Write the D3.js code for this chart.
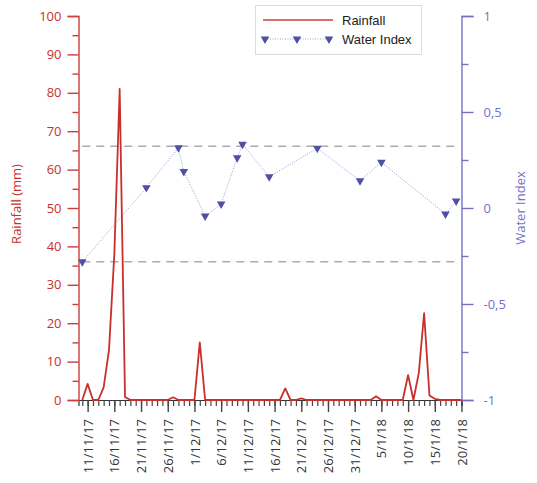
<!DOCTYPE html>
<html>
<head>
<meta charset="utf-8">
<script src="https://cdn.jsdelivr.net/npm/d3@7"></script>
<style>
  body { margin: 0; background: #fff; }
  svg { display: block; }
</style>
</head>
<body>
<svg id="chart" width="537" height="483"></svg>
<script>
// Daily rainfall (mm), one value per day starting at rainStart
const rainStart = "2017-11-10";
const rainfall = [
  0, 4.2, 0, 0, 3.3, 13, 38, 81, 0.8, 0,    // 10/11 – 19/11
  0, 0, 0, 0, 0, 0, 0, 0.7, 0, 0,           // 20/11 – 29/11
  0, 0, 15, 0, 0, 0, 0, 0, 0, 0,            // 30/11 – 9/12
  0, 0, 0, 0, 0, 0, 0, 0, 3.0, 0,           // 10/12 – 19/12
  0, 0.4, 0, 0, 0, 0, 0, 0, 0, 0,           // 20/12 – 29/12
  0, 0, 0, 0, 0, 1.0, 0, 0, 0, 0,           // 30/12 – 8/1
  0, 6.5, 0, 7, 22.6, 1.2, 0.3, 0, 0, 0,    // 9/1 – 18/1
  0, 0                                       // 19/1 – 20/1
];

// Water index samples
const wiDates = ["2017-11-10", "2017-11-22", "2017-11-28", "2017-11-29", "2017-12-03",
                 "2017-12-06", "2017-12-09", "2017-12-10", "2017-12-15", "2017-12-24",
                 "2018-01-01", "2018-01-05", "2018-01-17", "2018-01-19"];
const wiValues = [-0.28, 0.106, 0.314, 0.19, -0.042, 0.021, 0.262, 0.332,
                  0.163, 0.311, 0.142, 0.238, -0.031, 0.036];

// Reference levels of the water index (dashed lines)
const refLevels = [0.322, -0.28];

// Axis ticks
const dateTicks = ["2017-11-11", "2017-11-16", "2017-11-21", "2017-11-26", "2017-12-01",
                   "2017-12-06", "2017-12-11", "2017-12-16", "2017-12-21", "2017-12-26",
                   "2017-12-31", "2018-01-05", "2018-01-10", "2018-01-15", "2018-01-20"];
const rainTicks = [0, 10, 20, 30, 40, 50, 60, 70, 80, 90, 100];
const rainMinorTicks = [5, 15, 25, 35, 45, 55, 65, 75, 85, 95];
const wiTicks = [-1, -0.5, 0, 0.5, 1];
const wiMinorTicks = [-0.75, -0.25, 0.25, 0.75];

const RED = "#c8302e";
const AXIS_RED = "#cc3d3d";
const BLUE = "#7373c6";
const MARK = "#4f4fa3";
const FONT = "'Open Sans', 'DejaVu Sans', sans-serif";

const svg = d3.select("#chart");
const parse = d3.utcParse("%Y-%m-%d");

const plotLeft = 78.5, plotRight = 461.5, plotTop = 16, plotBottom = 400;

const x = d3.scaleUtc()
  .domain([new Date(Date.UTC(2017, 10, 9, 7)), parse("2018-01-20")])
  .range([plotLeft, plotRight]);
const yRain = d3.scaleLinear().domain([0, 100]).range([plotBottom, plotTop]);
const yWi = d3.scaleLinear().domain([-1, 1]).range([plotBottom, plotTop]);

const start = parse(rainStart);
const rainData = rainfall.map((v, i) => ({ date: d3.utcDay.offset(start, i), value: v }));
const wiData = wiDates.map((d, i) => ({ date: parse(d), value: wiValues[i] }));

const commaFmt = d3.formatLocale({ decimal: ",", thousands: ".", grouping: [3], currency: ["", ""], minus: "-" }).format("");

// ---- X axis (minor ticks each day, major ticks every 5 days)
const minorDays = d3.utcDay.range(parse("2017-11-10"), parse("2018-01-21"));
svg.append("g")
  .attr("transform", `translate(0,${plotBottom})`)
  .call(d3.axisBottom(x).tickValues(minorDays).tickSize(6).tickFormat(""))
  .call(g => g.select(".domain").attr("stroke", "#333").attr("stroke-width", 1.2))
  .call(g => g.selectAll(".tick line").attr("stroke", "#444").attr("stroke-width", 1.2));

const xMajor = svg.append("g")
  .attr("transform", `translate(0,${plotBottom})`)
  .call(d3.axisBottom(x).tickValues(dateTicks.map(parse)).tickSize(12)
    .tickFormat(d3.utcFormat("%-d/%-m/%y")));
xMajor.select(".domain").remove();
xMajor.selectAll(".tick line").attr("stroke", "#444").attr("stroke-width", 1.4);
xMajor.selectAll(".tick text")
  .attr("transform", "rotate(-90)")
  .attr("text-anchor", "end")
  .attr("x", -19)
  .attr("y", 0)
  .attr("dy", "0.35em")
  .attr("fill", "#333")
  .style("font", `13px ${FONT}`);

// ---- Left axis (rainfall)
const yl = svg.append("g")
  .attr("transform", `translate(${plotLeft},0)`)
  .call(d3.axisLeft(yRain).tickValues(rainTicks).tickSize(11).tickPadding(6));
yl.select(".domain").attr("stroke", AXIS_RED).attr("stroke-width", 1.4);
yl.selectAll(".tick line").attr("stroke", AXIS_RED).attr("stroke-width", 1.4);
yl.selectAll(".tick text").attr("fill", RED).style("font", `13px ${FONT}`);
svg.append("g")
  .attr("transform", `translate(${plotLeft},0)`)
  .call(d3.axisLeft(yRain).tickValues(rainMinorTicks).tickSize(6).tickFormat(""))
  .call(g => g.select(".domain").remove())
  .call(g => g.selectAll(".tick line").attr("stroke", AXIS_RED).attr("stroke-width", 1.4));

// ---- Right axis (water index)
const yr = svg.append("g")
  .attr("transform", `translate(${plotRight},0)`)
  .call(d3.axisRight(yWi).tickValues(wiTicks).tickSize(12).tickPadding(10).tickFormat(commaFmt));
yr.select(".domain").attr("stroke", BLUE).attr("stroke-width", 1.4);
yr.selectAll(".tick line").attr("stroke", BLUE).attr("stroke-width", 1.4);
yr.selectAll(".tick text").attr("fill", BLUE).style("font", `13px ${FONT}`);
svg.append("g")
  .attr("transform", `translate(${plotRight},0)`)
  .call(d3.axisRight(yWi).tickValues(wiMinorTicks).tickSize(7).tickFormat(""))
  .call(g => g.select(".domain").remove())
  .call(g => g.selectAll(".tick line").attr("stroke", BLUE).attr("stroke-width", 1.4));

// ---- Axis titles
svg.append("text")
  .attr("transform", `translate(21,${(plotTop + plotBottom) / 2 - 4}) rotate(-90)`)
  .attr("text-anchor", "middle")
  .attr("fill", RED)
  .style("font", `13px ${FONT}`)
  .text("Rainfall (mm)");
svg.append("text")
  .attr("transform", `translate(525,${(plotTop + plotBottom) / 2}) rotate(-90)`)
  .attr("text-anchor", "middle")
  .attr("fill", BLUE)
  .style("font", `13px ${FONT}`)
  .text("Water Index");

// ---- Dashed reference levels
const refStart = wiData[0].date, refEnd = wiData[wiData.length - 1].date;
svg.append("g").selectAll("line")
  .data(refLevels)
  .join("line")
  .attr("x1", x(refStart))
  .attr("x2", x(refEnd))
  .attr("y1", d => yWi(d))
  .attr("y2", d => yWi(d))
  .attr("stroke", "#a9a9b3")
  .attr("stroke-width", 1.4)
  .attr("stroke-dasharray", "8,6");

// ---- Water index dotted line + triangle markers
svg.append("path")
  .datum(wiData)
  .attr("fill", "none")
  .attr("stroke", "#9a9ad2")
  .attr("stroke-width", 1)
  .attr("stroke-dasharray", "1,1.5")
  .attr("d", d3.line().x(d => x(d.date)).y(d => yWi(d.value)));

const tri = d3.symbol().type(d3.symbolTriangle).size(32);
svg.append("g").selectAll("path")
  .data(wiData)
  .join("path")
  .attr("d", tri)
  .attr("transform", d => `translate(${x(d.date)},${yWi(d.value)}) rotate(180)`)
  .attr("fill", MARK);

// ---- Rainfall line
svg.append("path")
  .datum(rainData)
  .attr("fill", "none")
  .attr("stroke", RED)
  .attr("stroke-width", 1.8)
  .attr("stroke-linejoin", "round")
  .attr("d", d3.line().x(d => x(d.date)).y(d => yRain(d.value)));

// ---- Legend
const lg = svg.append("g");
lg.append("rect")
  .attr("x", 255.5).attr("y", 5.5).attr("width", 166).attr("height", 49)
  .attr("fill", "#fff").attr("stroke", "#dcdcdc");
lg.append("line")
  .attr("x1", 263).attr("x2", 333).attr("y1", 20).attr("y2", 20)
  .attr("stroke", "#cc4040").attr("stroke-width", 1.6);
lg.append("line")
  .attr("x1", 265).attr("x2", 329).attr("y1", 39).attr("y2", 39)
  .attr("stroke", "#9a9ad2").attr("stroke-width", 1).attr("stroke-dasharray", "1,1.5");
lg.selectAll("path.lm")
  .data([265, 297, 329])
  .join("path")
  .attr("class", "lm")
  .attr("d", tri)
  .attr("transform", d => `translate(${d},39) rotate(180)`)
  .attr("fill", MARK);
lg.append("text")
  .attr("x", 342).attr("y", 25)
  .attr("fill", "#222")
  .style("font", "13px 'Liberation Sans', Arial, sans-serif")
  .text("Rainfall");
lg.append("text")
  .attr("x", 342).attr("y", 44)
  .attr("fill", "#222")
  .style("font", "13px 'Liberation Sans', Arial, sans-serif")
  .text("Water Index");
</script>
</body>
</html>
